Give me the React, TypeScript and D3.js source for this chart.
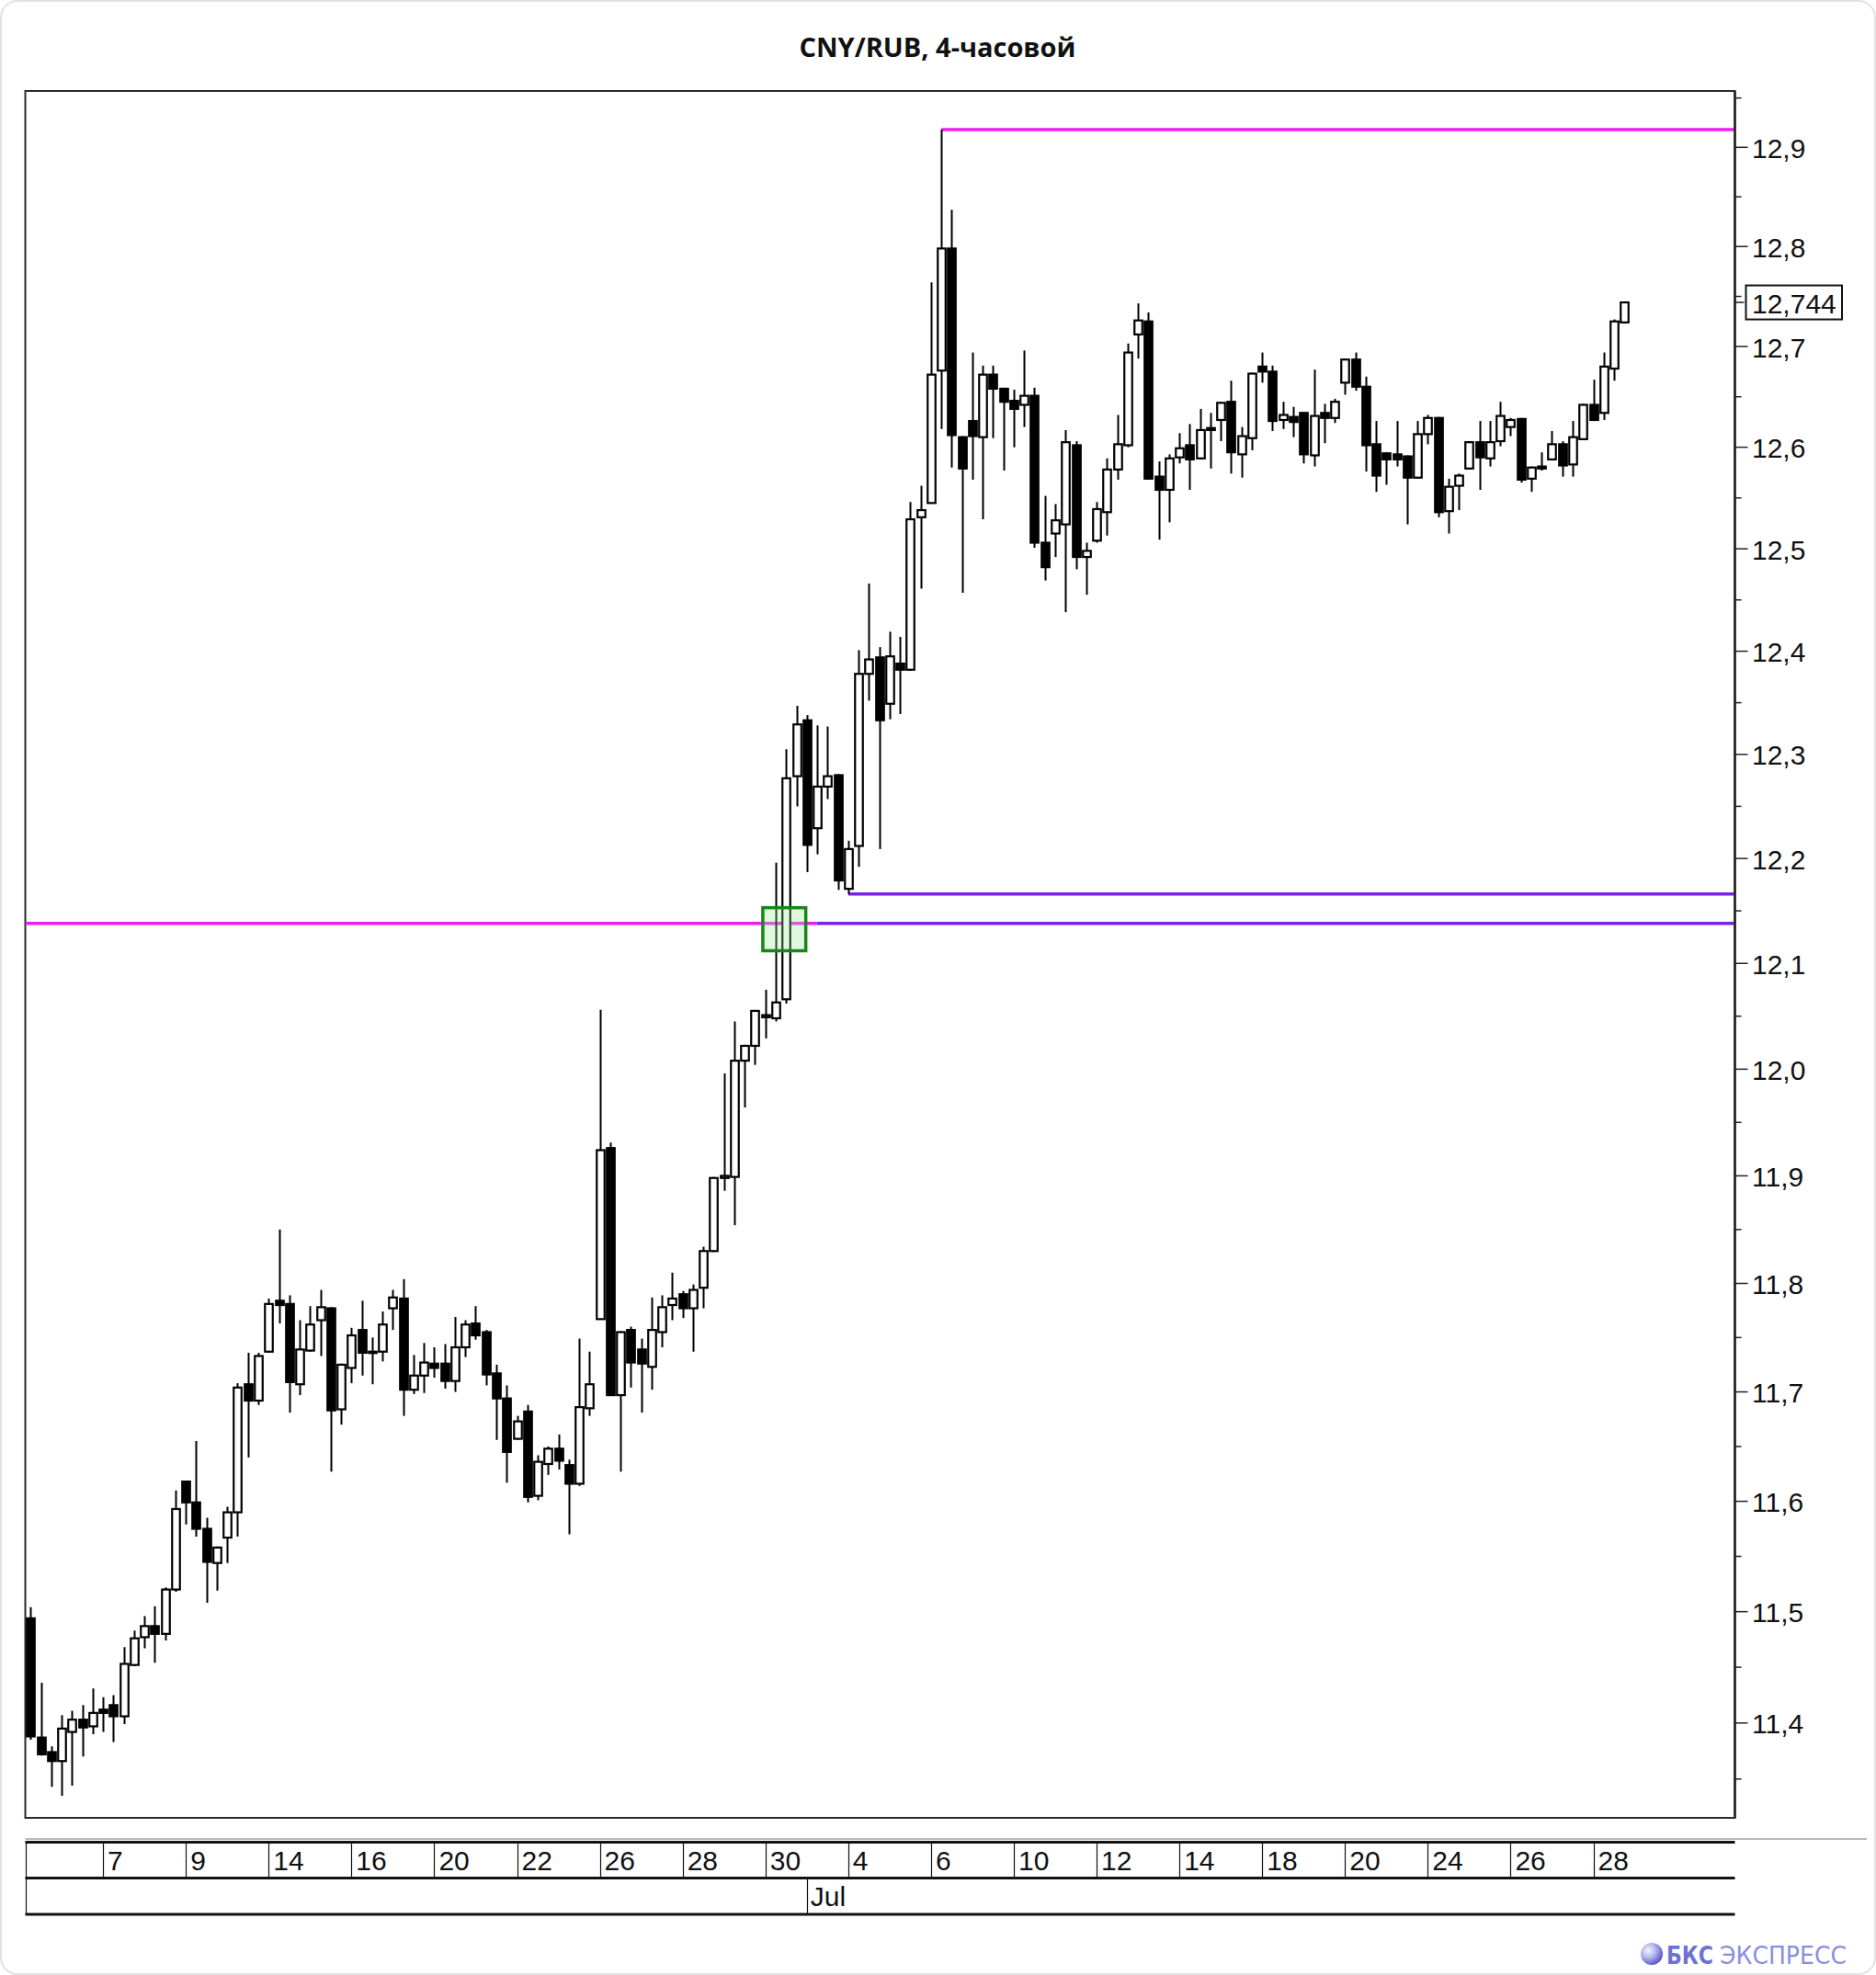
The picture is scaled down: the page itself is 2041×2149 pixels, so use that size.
import React from 'react';
import * as d3 from 'd3';

const W = 2041;
const H = 2149;

// OHLC, 4-hour candles (index 0..154)
const opens = [11.494,11.387,11.374,11.366,11.392,11.403,11.397,11.412,11.416,11.406,11.452,11.477,11.487,11.480,11.520,11.618,11.599,11.575,11.544,11.567,
11.590,11.707,11.692,11.737,11.784,11.781,11.707,11.738,11.766,11.777,11.684,11.722,11.757,11.736,11.737,11.777,11.786,11.702,11.715,11.726,
11.726,11.710,11.741,11.763,11.755,11.717,11.694,11.657,11.682,11.605,11.634,11.648,11.633,11.616,11.685,11.767,11.926,11.697,11.757,11.739,
11.723,11.755,11.780,11.790,11.777,11.796,11.830,11.898,11.899,12.008,12.022,12.049,12.048,12.066,12.279,12.333,12.229,12.269,12.280,12.171,
12.212,12.378,12.394,12.349,12.388,12.382,12.531,12.545,12.676,12.798,12.610,12.626,12.610,12.672,12.658,12.646,12.642,12.651,12.506,12.515,
12.524,12.602,12.492,12.508,12.536,12.578,12.602,12.712,12.725,12.571,12.558,12.590,12.602,12.589,12.619,12.627,12.645,12.593,12.609,12.680,
12.675,12.627,12.630,12.634,12.592,12.634,12.629,12.664,12.687,12.660,12.603,12.594,12.593,12.591,12.570,12.613,12.629,12.537,12.562,12.579,
12.605,12.589,12.606,12.620,12.628,12.569,12.579,12.588,12.603,12.583,12.608,12.642,12.634,12.678,12.724];
const highs = [11.504,11.436,11.379,11.407,11.411,11.416,11.431,11.423,11.425,11.468,11.483,11.496,11.505,11.522,11.610,11.619,11.655,11.585,11.559,11.595,
11.708,11.736,11.736,11.786,11.850,11.789,11.766,11.779,11.794,11.778,11.726,11.759,11.784,11.750,11.774,11.794,11.804,11.734,11.745,11.741,
11.744,11.769,11.766,11.779,11.757,11.725,11.706,11.678,11.688,11.642,11.650,11.661,11.638,11.749,11.737,12.056,11.931,11.756,11.760,11.749,
11.787,11.789,11.810,11.793,11.799,11.834,11.899,11.996,12.045,12.023,12.056,12.075,12.196,12.305,12.347,12.338,12.328,12.327,12.281,12.217,
12.401,12.466,12.404,12.419,12.414,12.546,12.562,12.764,12.918,12.837,12.611,12.694,12.681,12.681,12.659,12.657,12.696,12.659,12.552,12.544,
12.617,12.606,12.506,12.546,12.589,12.632,12.703,12.743,12.734,12.586,12.593,12.614,12.623,12.638,12.634,12.645,12.666,12.620,12.674,12.694,
12.681,12.645,12.640,12.635,12.677,12.643,12.648,12.688,12.694,12.670,12.626,12.595,12.626,12.592,12.626,12.632,12.630,12.569,12.574,12.606,
12.626,12.626,12.645,12.629,12.629,12.581,12.595,12.616,12.606,12.626,12.643,12.667,12.694,12.727,12.745];
const lows = [11.385,11.371,11.343,11.335,11.344,11.370,11.390,11.392,11.383,11.399,11.451,11.467,11.454,11.474,11.518,11.579,11.568,11.508,11.519,11.544,
11.568,11.640,11.688,11.736,11.763,11.681,11.697,11.737,11.733,11.627,11.670,11.708,11.715,11.707,11.728,11.757,11.678,11.698,11.699,11.713,
11.703,11.700,11.732,11.748,11.706,11.656,11.617,11.656,11.599,11.601,11.624,11.629,11.570,11.614,11.678,11.767,11.697,11.627,11.704,11.681,
11.702,11.741,11.766,11.768,11.737,11.777,11.829,11.886,11.854,11.964,12.004,12.029,12.045,12.062,12.250,12.187,12.204,12.257,12.170,12.166,
12.192,12.352,12.209,12.334,12.339,12.381,12.461,12.545,12.618,12.580,12.457,12.568,12.529,12.609,12.577,12.600,12.620,12.501,12.469,12.492,
12.438,12.480,12.455,12.506,12.513,12.568,12.600,12.688,12.568,12.509,12.526,12.584,12.558,12.588,12.579,12.606,12.574,12.570,12.597,12.664,
12.616,12.618,12.610,12.584,12.581,12.604,12.624,12.652,12.656,12.576,12.556,12.563,12.581,12.524,12.569,12.603,12.531,12.515,12.538,12.578,
12.558,12.581,12.601,12.611,12.565,12.556,12.577,12.587,12.571,12.571,12.607,12.626,12.627,12.666,12.723];
const closes = [11.388,11.372,11.366,11.395,11.403,11.396,11.409,11.409,11.406,11.453,11.476,11.487,11.480,11.520,11.593,11.599,11.575,11.545,11.558,11.590,
11.704,11.692,11.733,11.781,11.780,11.709,11.739,11.762,11.778,11.683,11.725,11.752,11.736,11.737,11.762,11.787,11.702,11.715,11.727,11.722,
11.710,11.741,11.762,11.752,11.716,11.694,11.645,11.673,11.604,11.636,11.648,11.637,11.616,11.686,11.707,11.924,11.697,11.755,11.727,11.726,
11.757,11.778,11.786,11.777,11.794,11.830,11.898,11.900,12.008,12.022,12.055,12.051,12.063,12.277,12.329,12.213,12.269,12.279,12.179,12.209,
12.378,12.392,12.333,12.395,12.382,12.529,12.538,12.672,12.798,12.612,12.579,12.611,12.672,12.658,12.645,12.638,12.651,12.506,12.482,12.528,
12.605,12.492,12.498,12.539,12.578,12.603,12.694,12.726,12.569,12.558,12.589,12.599,12.588,12.617,12.617,12.644,12.595,12.611,12.673,12.675,
12.626,12.632,12.625,12.593,12.631,12.629,12.645,12.687,12.660,12.602,12.572,12.588,12.588,12.570,12.613,12.629,12.536,12.561,12.572,12.605,
12.590,12.605,12.631,12.627,12.568,12.580,12.581,12.603,12.582,12.610,12.642,12.627,12.680,12.725,12.744];

const priceTicks = [11.4, 11.5, 11.6, 11.7, 11.8, 11.9, 12.0, 12.1, 12.2, 12.3, 12.4, 12.5, 12.6, 12.7, 12.8, 12.9];
const minorTicks = [11.35, 11.45, 11.55, 11.65, 11.75, 11.85, 11.95, 12.05, 12.15, 12.25, 12.35, 12.45, 12.55, 12.65, 12.75, 12.85, 12.95];
const dayLabels = ['7', '9', '14', '16', '20', '22', '26', '28', '30', '4', '6', '10', '12', '14', '18', '20', '24', '26', '28'];
const dayTickIndex = [7, 15, 23, 31, 39, 47, 55, 63, 71, 79, 87, 95, 103, 111, 119, 127, 135, 143, 151];
const monthLabels = ['Jul'];
const monthTickIndex = [75];
const lastPrice = 12.744;

// horizontal levels: price, start candle index (null = chart start), end index (null = chart end), colour kind
const levelPrices = [12.918, 12.166, 12.138, 12.138];
const levelStart = [88, 79, null, 75.95];
const levelEnd = [null, null, 75.95, null];
const levelKind = ['magenta', 'purple', 'magenta', 'purple'];

// highlighted zone (candle index range, price range)
const zoneIdx = [70.75, 74.9];
const zonePrice = [12.112, 12.153];

const fmt = (v: number) => d3.format('.1f')(v).replace('.', ',');
const fmt3 = (v: number) => d3.format('.3f')(v).replace('.', ',');

export default function App() {
  const left = 27.5, right = 1887.5, top = 99, bottom = 1978;
  const x = d3.scaleLinear().domain([0, opens.length - 1]).range([33.3, 1767.3]);
  const y = d3.scaleLog().domain([11.4, 12.9]).range([1874.8, 160.3]);
  const levelColor: Record<string, string> = { magenta: '#f01ef0', purple: '#7b22e6' };
  const bodyW = 8.5;
  const axisFont = "'Liberation Sans', Arial, sans-serif";

  return (
    <svg width={W} height={H} viewBox={`0 0 ${W} ${H}`} style={{ position: 'absolute', left: 0, top: 0, display: 'block' }}>
      <defs>
        <radialGradient id="logoG" cx="35%" cy="35%" r="70%">
          <stop offset="0%" stopColor="#f2f4ff" />
          <stop offset="45%" stopColor="#b7b9f0" />
          <stop offset="100%" stopColor="#5a4fc8" />
        </radialGradient>
        <clipPath id="plotClip">
          <rect x={left} y={top} width={right - left} height={bottom - top} />
        </clipPath>
      </defs>
      <rect x={1} y={1} width={W - 2} height={H - 2} rx={18} fill="#fff" stroke="#e2e2e2" strokeWidth={2} />

      <text x={1020} y={62} textAnchor="middle" fontFamily="'Open Sans', 'Noto Sans', sans-serif" fontWeight={700} fontSize={29} fill="#111">CNY/RUB, 4-часовой</text>

      {/* plot frame */}
      <rect x={left} y={top} width={right - left} height={bottom - top} fill="#fff" stroke="#2a2a2a" strokeWidth={2} />

      <g clipPath="url(#plotClip)">
        {/* levels */}
        {levelPrices.map((p, i) => {
          const x1 = levelStart[i] == null ? left : x(levelStart[i] as number);
          const x2 = levelEnd[i] == null ? right : x(levelEnd[i] as number);
          return <line key={'lv' + i} x1={x1} x2={x2} y1={y(p)} y2={y(p)} stroke={levelColor[levelKind[i]]} strokeWidth={3.5} />;
        })}

        {/* candles */}
        {opens.map((o, i) => {
          const c = closes[i];
          const cx = Math.round(x(i)) + 0.5;
          const yTop = y(Math.max(o, c));
          const yBot = y(Math.min(o, c));
          const up = c >= o;
          const h = Math.max(1.5, yBot - yTop);
          return (
            <g key={'c' + i}>
              <line x1={cx} x2={cx} y1={y(highs[i])} y2={y(lows[i])} stroke="#000" strokeWidth={2} />
              <rect x={cx - bodyW / 2} y={yTop} width={bodyW} height={h} fill={up ? '#fff' : '#000'} stroke="#000" strokeWidth={2.2} />
            </g>
          );
        })}

        {/* highlighted zone */}
        <rect x={x(zoneIdx[0])} y={y(zonePrice[1])} width={x(zoneIdx[1]) - x(zoneIdx[0])} height={y(zonePrice[0]) - y(zonePrice[1])}
          fill="rgba(150,235,150,0.3)" stroke="#1a861a" strokeWidth={3.5} />
      </g>

      {/* right price axis */}
      <line x1={right} x2={right} y1={top} y2={bottom} stroke="#222" strokeWidth={2.5} />
      {minorTicks.map((t) => (
        <line key={'mt' + t} x1={right} x2={right + 7} y1={y(t)} y2={y(t)} stroke="#222" strokeWidth={1.5} />
      ))}
      {priceTicks.map((t) => (
        <g key={'pt' + t}>
          <line x1={right} x2={right + 14} y1={y(t)} y2={y(t)} stroke="#222" strokeWidth={1.5} />
          <text x={1906} y={y(t) + 11.5} fontFamily={axisFont} fontSize={30} fill="#111">{fmt(t)}</text>
        </g>
      ))}
      <line x1={right} x2={right + 10} y1={y(lastPrice)} y2={y(lastPrice)} stroke="#222" strokeWidth={1.5} />
      <rect x={1899.5} y={y(lastPrice) - 18.5} width={104.5} height={37} fill="#fff" stroke="#111" strokeWidth={2} />
      <text x={1906} y={y(lastPrice) + 11.5} fontFamily={axisFont} fontSize={30} fill="#111">{fmt3(lastPrice)}</text>

      {/* date axis */}
      <line x1={left} x2={2031} y1={2001} y2={2001} stroke="#b8b8b8" strokeWidth={2} />
      <line x1={left} x2={right} y1={2004.5} y2={2004.5} stroke="#111" strokeWidth={3} />
      <line x1={left} x2={right} y1={2043.5} y2={2043.5} stroke="#111" strokeWidth={3} />
      <line x1={left} x2={right} y1={2083} y2={2083} stroke="#111" strokeWidth={3} />
      <line x1={28.5} x2={28.5} y1={2004} y2={2083} stroke="#111" strokeWidth={1.2} />
      {dayTickIndex.map((di, i) => (
        <g key={'d' + i}>
          <line x1={Math.round(x(di)) + 0.5} x2={Math.round(x(di)) + 0.5} y1={2005} y2={2043} stroke="#111" strokeWidth={1.2} />
          <text x={x(di) + 5} y={2035} fontFamily={axisFont} fontSize={30} fill="#111">{dayLabels[i]}</text>
        </g>
      ))}
      {monthTickIndex.map((mi, i) => (
        <g key={'m' + i}>
          <line x1={Math.round(x(mi)) + 0.5} x2={Math.round(x(mi)) + 0.5} y1={2044} y2={2083} stroke="#111" strokeWidth={1.2} />
          <text x={x(mi) + 4} y={2074} fontFamily={axisFont} fontSize={30} fill="#111">{monthLabels[i]}</text>
        </g>
      ))}

      {/* logo */}
      <circle cx={1797} cy={2126} r={12} fill="url(#logoG)" />
      <text x={1813} y={2137} fontFamily="'Liberation Sans Narrow', 'DejaVu Sans Condensed', Arial, sans-serif" fontWeight={700} fontSize={27}
        fill="#6f72d2" textLength={51} lengthAdjust="spacingAndGlyphs">БКС</text>
      <text x={1871} y={2137} fontFamily="'Liberation Sans Narrow', 'DejaVu Sans Condensed', Arial, sans-serif" fontSize={27}
        fill="#8a8de0" textLength={138} lengthAdjust="spacingAndGlyphs">ЭКСПРЕСС</text>
    </svg>
  );
}
